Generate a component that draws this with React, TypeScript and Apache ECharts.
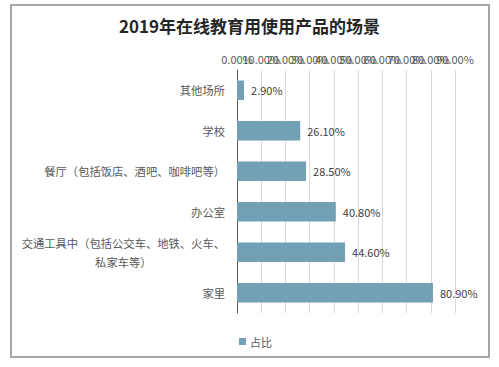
import React, { useEffect, useRef } from "react";
import * as echarts from "echarts";

const titleText = "2019年在线教育用使用产品的场景";
const categories = [
  "其他场所",
  "学校",
  "餐厅（包括饭店、酒吧、咖啡吧等）",
  "办公室",
  "交通工具中（包括公交车、地铁、火车、\n私家车等）",
  "家里",
];
const values = [2.9, 26.1, 28.5, 40.8, 44.6, 80.9];
const seriesName = "占比";
const axisMin = 0;
const axisMax = 90;
const axisInterval = 10;

const FONT = "'Noto Sans CJK SC', 'Liberation Sans', sans-serif";

const labelStyle = {
  show: true,
  margin: 6,
  fontSize: 11,
  color: "#595959",
  fontFamily: FONT,
  hideOverlap: false,
};

const fmtPct = (v: number) => v.toFixed(2) + "%";
const isEvenStep = (v: number) => Math.round(v / axisInterval) % 2 === 0;

export default function App() {
  const ref = useRef<HTMLDivElement>(null);
  useEffect(() => {
    if (!ref.current) return;
    const chart = echarts.init(ref.current, undefined, { renderer: "svg" });
    chart.setOption({
      animation: false,
      backgroundColor: "#ffffff",
      textStyle: { fontFamily: FONT },
      title: {
        text: titleText,
        left: "center",
        top: 12,
        textStyle: { fontSize: 17, fontWeight: "bold", color: "#262626", fontFamily: FONT },
      },
      graphic: [
        {
          type: "rect",
          shape: { x: 11, y: 5, width: 478, height: 352 },
          style: { fill: "none", stroke: "#a6a6a6", lineWidth: 2 },
          silent: true,
        },
      ],
      legend: {
        data: [seriesName],
        left: 234,
        top: 331,
        icon: "rect",
        itemWidth: 7,
        itemHeight: 7,
        itemGap: 4,
        textStyle: { fontSize: 11, color: "#595959", fontFamily: FONT, padding: [0, 0, 0, -1] },
      },
      grid: { left: 237, right: 44, top: 70, bottom: 54, containLabel: false },
      xAxis: [
        {
          type: "value",
          position: "top",
          min: axisMin,
          max: axisMax,
          interval: axisInterval,
          axisLine: { show: false },
          axisTick: { show: false },
          splitLine: { show: true, lineStyle: { color: "#d9d9d9", width: 1 } },
          axisLabel: {
            ...labelStyle,
            showMinLabel: true,
            showMaxLabel: false,
            formatter: (v: number) => (isEvenStep(v) ? fmtPct(v) : ""),
          },
        },
        {
          type: "value",
          position: "top",
          offset: 0,
          min: axisMin,
          max: axisMax,
          interval: axisInterval,
          axisLine: { show: false },
          axisTick: { show: false },
          splitLine: { show: false },
          axisLabel: {
            ...labelStyle,
            showMinLabel: false,
            showMaxLabel: true,
            formatter: (v: number) => (isEvenStep(v) ? "" : fmtPct(v)),
          },
        },
      ],
      yAxis: {
        type: "category",
        inverse: true,
        data: categories,
        axisLine: { show: true, lineStyle: { color: "#595959", width: 1 } },
        axisTick: { show: false },
        axisLabel: {
          margin: 12,
          fontSize: 11.3,
          color: "#595959",
          fontFamily: FONT,
          lineHeight: 19,
          interval: 0,
          formatter: (v: string) =>
            v.indexOf("\n") >= 0
              ? v
                  .split("\n")
                  .map((s) => "{c|" + s + "}")
                  .join("\n")
              : v,
          rich: {
            c: { align: "center", fontSize: 11.3, color: "#595959", fontFamily: FONT, lineHeight: 19 },
          },
        },
      },
      series: [
        {
          name: seriesName,
          type: "bar",
          xAxisIndex: 0,
          data: values,
          barCategoryGap: "52%",
          itemStyle: { color: "#72a0b4" },
          label: {
            show: true,
            position: "right",
            distance: 7,
            fontSize: 11,
            color: "#404040",
            fontFamily: FONT,
            formatter: (p: any) => Number(p.value).toFixed(2) + "%",
          },
        },
      ],
    });
    return () => chart.dispose();
  }, []);
  return (
    <div
      ref={ref}
      style={{ position: "fixed", left: 0, top: 0, width: 499, height: 367 }}
    />
  );
}
